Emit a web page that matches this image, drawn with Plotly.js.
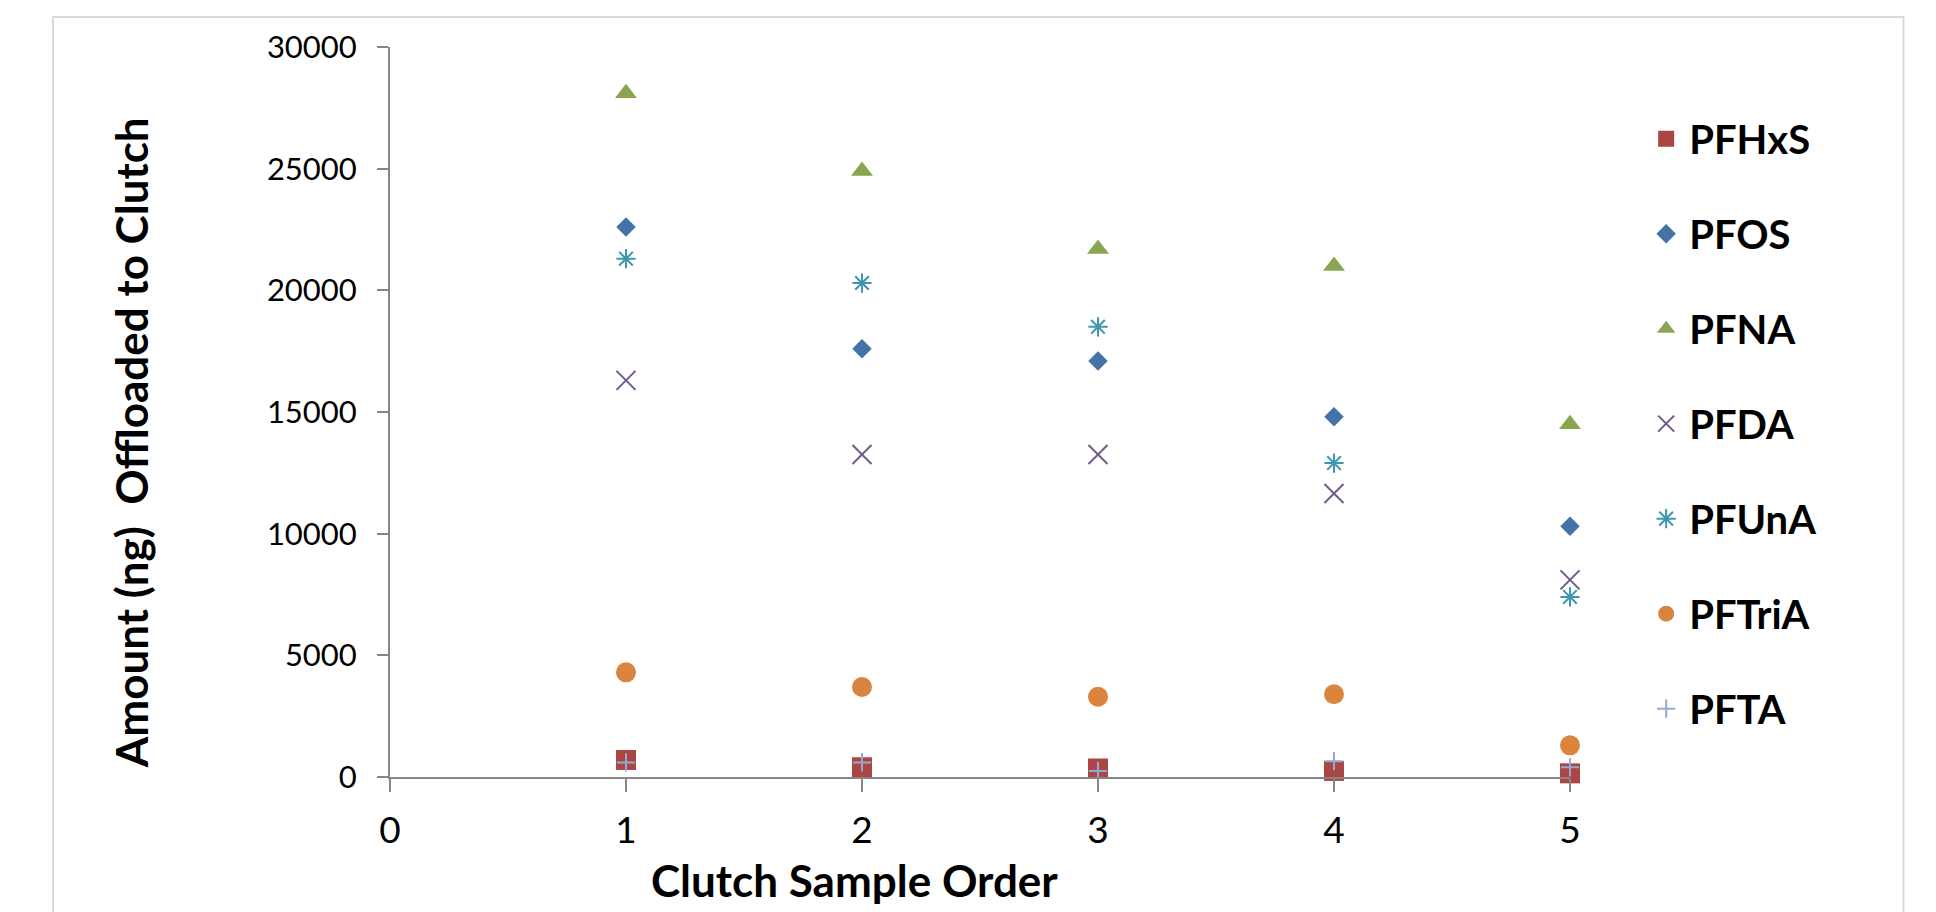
<!DOCTYPE html>
<html>
<head>
<meta charset="utf-8">
<script src="https://cdn.plot.ly/plotly-3.0.1.min.js"></script>
<style>
  html, body { margin: 0; padding: 0; background: #ffffff; }
  #chart { width: 1936px; height: 912px; }
</style>
</head>
<body>
<div id="chart"></div>
<script>
// Clutch sample order (x)
const clutchOrder = [1, 2, 3, 4, 5];

// Series values (ng offloaded to clutch)
const seriesNames = ["PFHxS", "PFOS", "PFNA", "PFDA", "PFUnA", "PFTriA", "PFTA"];
const PFHxS  = [700, 400, 350, 250, 150];
const PFOS   = [22600, 17600, 17100, 14800, 10300];
const PFNA   = [28100, 24900, 21700, 21000, 14500];
const PFDA   = [16300, 13250, 13250, 11650, 8100];
const PFUnA  = [21300, 20300, 18500, 12900, 7400];
const PFTriA = [4300, 3700, 3300, 3400, 1300];
const PFTA   = [600, 600, 250, 650, 400];

const yTickVals = [0, 5000, 10000, 15000, 20000, 25000, 30000];
const xTickVals = [0, 1, 2, 3, 4, 5];

const xTitle = "Clutch Sample Order";
const yTitle = "Amount (ng)  Offloaded to Clutch";

const seriesValues = [PFHxS, PFOS, PFNA, PFDA, PFUnA, PFTriA, PFTA];
const styles = [
  {symbol: "square", color: "#AA4643", size: 20},
  {symbol: "diamond", color: "#4572A7", size: 15},
  {symbol: "triangle-up", color: "#89A54E", size: 19},
  {symbol: "x-thin-open", color: "#71588F", size: 19, lw: 2},
  {symbol: "asterisk-open", color: "#3D96AE", size: 16, lw: 2},
  {symbol: "circle", color: "#DB843D", size: 20},
  {symbol: "cross-thin-open", color: "#93A9CF", size: 13, lw: 2}
];

const traces = seriesNames.map((name, i) => {
  const s = styles[i];
  const marker = {symbol: s.symbol, color: s.color, size: s.size};
  if (s.lw) marker.line = {width: s.lw, color: s.color};
  else marker.line = {width: 0};
  return {
    type: "scatter",
    mode: "markers",
    name: name,
    legendgroup: name,
    x: clutchOrder,
    y: seriesValues[i],
    marker: marker,
    cliponaxis: false
  };
});

const axisGray = "#868686";
const fontFam = "Lato, 'Open Sans', sans-serif";

const layout = {
  width: 1936,
  height: 912,
  paper_bgcolor: "#ffffff",
  plot_bgcolor: "#ffffff",
  margin: {l: 390, r: 366, t: 47, b: 135, pad: 0},
  showlegend: true,
  legend: {
    x: 1.062,
    xref: "paper",
    xanchor: "left",
    y: 0.919,
    yanchor: "top",
    font: {family: fontFam, size: 40, color: "#000000", weight: "bold"},
    tracegroupgap: 40,
    itemwidth: 36,
    bgcolor: "rgba(0,0,0,0)",
    borderwidth: 0
  },
  xaxis: {
    range: [0, 5],
    tickvals: xTickVals,
    ticktext: xTickVals.map(String),
    ticks: "outside",
    ticklen: 13,
    tickwidth: 2,
    tickcolor: axisGray,
    showline: true,
    linecolor: axisGray,
    linewidth: 2,
    showgrid: false,
    zeroline: false,
    ticklabelstandoff: 7,
    tickfont: {family: fontFam, size: 37, color: "#000000"}
  },
  yaxis: {
    range: [0, 30000],
    tickvals: yTickVals,
    ticktext: yTickVals.map(String),
    ticks: "outside",
    ticklen: 11,
    tickwidth: 2,
    tickcolor: axisGray,
    showline: true,
    linecolor: axisGray,
    linewidth: 2,
    showgrid: false,
    zeroline: false,
    tickfont: {family: fontFam, size: 31, color: "#000000"},
    ticklabelstandoff: 14
  },
  annotations: [
    {
      text: "<b>" + xTitle + "</b>",
      xref: "paper", yref: "paper",
      x: 0.3936, y: -0.1405,
      xanchor: "center", yanchor: "middle",
      showarrow: false,
      font: {family: fontFam, size: 44, color: "#000000"}
    },
    {
      text: "<b>" + yTitle + "</b>",
      xref: "paper", yref: "paper",
      x: -0.2195, y: 0.4586,
      xanchor: "center", yanchor: "middle",
      textangle: -90,
      showarrow: false,
      font: {family: fontFam, size: 44, color: "#000000"}
    }
  ],
  shapes: [
    {
      type: "rect", xref: "paper", yref: "paper",
      x0: -0.2856, x1: 1.2826, y0: -0.2, y1: 1.0411,
      line: {color: "#d9d9d9", width: 2},
      fillcolor: "rgba(0,0,0,0)",
      layer: "below"
    }
  ]
};

Plotly.newPlot("chart", traces, layout, {displayModeBar: false, staticPlot: true});
</script>
</body>
</html>
